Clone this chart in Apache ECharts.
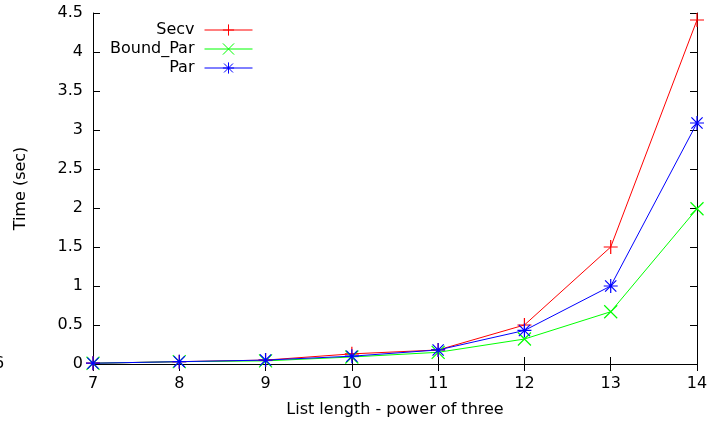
<!DOCTYPE html>
<html>
<head>
<meta charset="utf-8">
<script src="https://cdn.jsdelivr.net/npm/echarts@6/dist/echarts.min.js"></script>
<style>
  html, body { margin: 0; padding: 0; background: #fff; }
  #chart { width: 725px; height: 423px; }
</style>
</head>
<body>
<div id="chart"></div>
<script>
// list length exponents (power of three)
let powers = [7, 8, 9, 10, 11, 12, 13, 14];
// times in seconds
let secv = [0.01, 0.03, 0.05, 0.13, 0.18, 0.50, 1.50, 4.41];
let boundPar = [0.01, 0.03, 0.04, 0.09, 0.15, 0.32, 0.67, 1.99];
let par = [0.01, 0.03, 0.05, 0.10, 0.18, 0.43, 1.00, 3.09];

let names = ['Secv', 'Bound_Par', 'Par'];
let colors = ['#ff0000', '#00ff00', '#0000ff'];

// marker shapes, stroked only (gnuplot point types 1, 2, 3)
let plusPath = 'path://M0,5L10,5M5,0L5,10';
let crossPath = 'path://M0,0L10,10M10,0L0,10';
let starPath = 'path://M0,5L10,5M5,0L5,10M1,1L9,9M9,1L1,9';

function pairs(ys) {
	return powers.map(function(x, i) { return [x, ys[i]]; });
}

function makeSeries(name, ys, color, symbol, size) {
	return {
		name: name,
		type: 'line',
		data: pairs(ys),
		symbol: symbol,
		symbolSize: size,
		showAllSymbol: true,
		animation: false,
		lineStyle: { color: color, width: 1 },
		itemStyle: { color: 'rgba(0,0,0,0)', borderColor: color, borderWidth: 1.2 },
		emphasis: { disabled: true }
	};
}

let font = 'DejaVu Sans';
let fsize = 16;

function legendFor(name, top) {
	return {
		data: [name],
		right: 472,
		top: top,
		align: 'right',
		itemWidth: 48,
		itemHeight: 14,
		padding: 0,
		selectedMode: false,
		lineStyle: { width: 1 },
		itemStyle: { color: 'rgba(0,0,0,0)', borderWidth: 1 },
		textStyle: { fontFamily: font, fontSize: fsize, color: '#000', padding: [0, 5, 0, 0] }
	};
}

let chart = echarts.init(document.getElementById('chart'));

let option = {
	backgroundColor: '#fff',
	animation: false,
	grid: { left: 93, right: 28, top: 13, bottom: 58 },
	legend: [legendFor('Secv', 22), legendFor('Bound_Par', 41), legendFor('Par', 60)],
	xAxis: [{
		type: 'value',
		min: 7,
		max: 14,
		interval: 1,
		name: 'List length - power of three',
		nameLocation: 'middle',
		nameGap: 38,
		nameTextStyle: { fontFamily: font, fontSize: fsize, color: '#000' },
		axisLine: { lineStyle: { color: '#000', width: 1 } },
		axisTick: { inside: true, length: 7, lineStyle: { color: '#000' } },
		axisLabel: { fontFamily: font, fontSize: fsize, color: '#000', margin: 12 },
		splitLine: { show: false }
	}, {
		type: 'value',
		position: 'top',
		min: 7,
		max: 14,
		interval: 1,
		axisLine: { lineStyle: { color: '#000', width: 1 } },
		axisTick: { inside: true, length: 7, lineStyle: { color: '#000' } },
		axisLabel: { show: false },
		splitLine: { show: false }
	}],
	yAxis: [{
		type: 'value',
		min: 0,
		max: 4.5,
		interval: 0.5,
		name: 'Time (sec)',
		nameLocation: 'middle',
		nameGap: 64,
		nameTextStyle: { fontFamily: font, fontSize: fsize, color: '#000' },
		axisLine: { show: true, lineStyle: { color: '#000', width: 1 } },
		axisTick: { show: true, inside: true, length: 7, lineStyle: { color: '#000' } },
		axisLabel: { fontFamily: font, fontSize: fsize, color: '#000', margin: 10 },
		splitLine: { show: false }
	}, {
		type: 'value',
		position: 'right',
		min: 0,
		max: 4.5,
		interval: 0.5,
		axisLine: { show: true, lineStyle: { color: '#000', width: 1 } },
		axisTick: { show: true, inside: true, length: 7, lineStyle: { color: '#000' } },
		axisLabel: { show: false },
		splitLine: { show: false }
	}],
	graphic: [{
		type: 'text',
		left: -6,
		top: 356,
		style: { text: '6', font: '16px "DejaVu Sans"', fill: '#000' }
	}],
	series: [
		makeSeries(names[0], secv, colors[0], plusPath, 14),
		makeSeries(names[1], boundPar, colors[1], crossPath, 13),
		makeSeries(names[2], par, colors[2], starPath, 14)
	]
};

chart.setOption(option);
</script>
</body>
</html>
